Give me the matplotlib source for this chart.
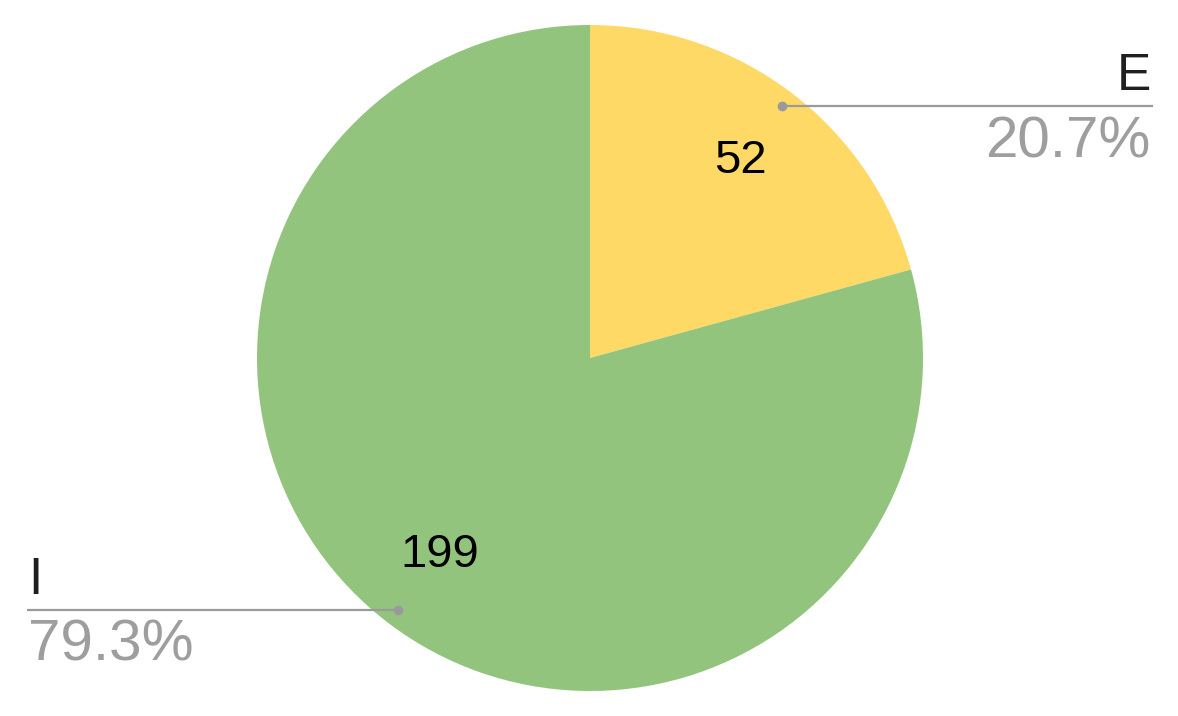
import numpy as np
import matplotlib.pyplot as plt

labels = ["E", "I"]
counts = [52, 199]
colors = ["#FFD966", "#93C47D"]

plt.rcParams['font.family'] = ['Liberation Sans', 'DejaVu Sans']

W, H = 1178, 716
fig = plt.figure(figsize=(W / 100, H / 100), dpi=100)
ax = fig.add_axes([0, 0, 1, 1])

cx, cy, r = 590, 358, 333
total = sum(counts)

wedges, _, autotexts = ax.pie(counts, colors=colors, startangle=90, counterclock=False,
                              center=(cx, cy), radius=r, frame=True,
                              autopct=lambda p: "%d" % round(p * total / 100),
                              pctdistance=0.745,
                              wedgeprops=dict(linewidth=0),
                              textprops=dict(fontsize=34, color='black'))
ax.set_xlim(0, W)
ax.set_ylim(0, H)
ax.set_aspect('equal')
ax.axis('off')

# lignes de rappel avec étiquette et pourcentage
for w, lab, n in zip(wedges, labels, counts):
    ang = np.deg2rad((w.theta1 + w.theta2) / 2)
    px = cx + 0.95 * r * np.cos(ang)
    py = cy + 0.95 * r * np.sin(ang)
    pct = "%.1f%%" % (100 * n / total)
    if np.cos(ang) >= 0:
        xe, ha = 1153, 'right'
        xt = xe - 2
    else:
        xe, ha = 27, 'left'
        xt = xe + 1
    ax.plot([px, xe], [py, py], color='#9a9a9a', lw=1.6, solid_capstyle='butt', zorder=5)
    ax.plot(px, py, 'o', color='#9a9a9a', markersize=6, zorder=6)
    ax.text(xt, py + 16, lab, ha=ha, va='baseline', fontsize=37, color='#1f1f1f')
    ax.text(xt, py - 9, pct, ha=ha, va='top', fontsize=42, color='#9e9e9e')

plt.savefig('out.png', dpi=100)
